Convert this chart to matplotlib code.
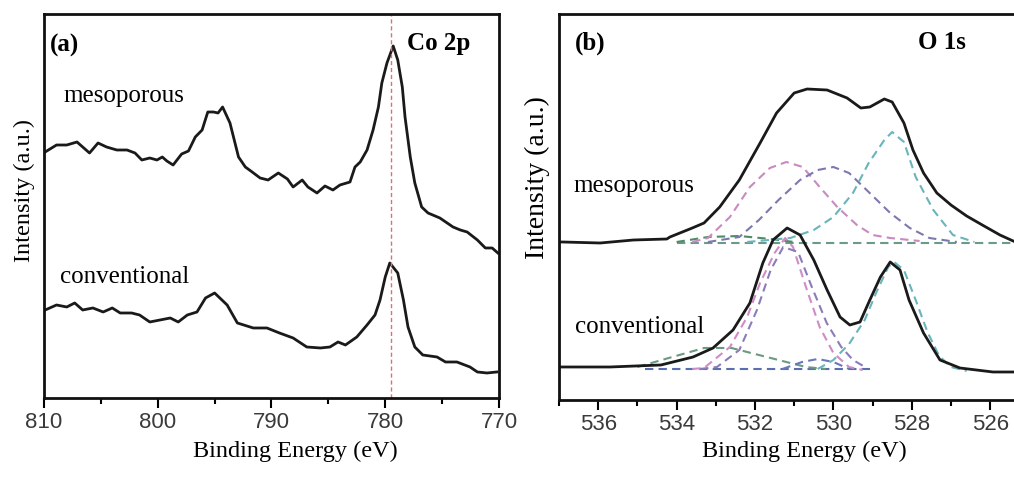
import numpy as np
import matplotlib.pyplot as plt

# Co 2p espectro (energía de enlace en eV, intensidad en u.a.)
co_e_meso = [809.9, 808.9, 808.0, 807.1, 806.6, 806.0, 805.25, 804.5, 803.6, 802.7, 802.0, 801.4,
             800.7, 800.07, 799.6, 799.2, 798.65, 797.9, 797.3, 796.7, 796.1, 795.6, 795.1, 794.7,
             794.3, 793.65, 792.9, 792.3, 791.7, 791.0, 790.3, 789.4, 788.6, 788.1, 787.3, 786.8,
             786.0, 785.3, 784.6, 783.98, 783.1, 782.66, 782.2, 781.6, 781.07, 780.6, 780.3, 779.85,
             779.3, 778.9, 778.5, 778.26, 777.8, 777.4, 776.8, 776.24, 775.2, 774.04, 773.4, 772.8,
             771.9, 771.2, 770.6, 770.1]
co_i_meso = [248, 255, 255, 258, 253, 247, 257, 253, 250, 250, 247, 240,
             242, 240, 243, 239, 235, 246, 249, 263, 270, 288, 288, 287,
             293, 277, 243, 233, 228, 222, 220, 227, 221, 213, 220, 213,
             207, 214, 210, 215, 218, 233, 238, 250, 270, 293, 317, 337,
             354, 340, 313, 283, 243, 217, 193, 187, 182, 173, 170, 168,
             160, 152, 152, 147]

co_e_conv = [809.9, 808.9, 808.0, 807.3, 806.6, 805.7, 804.8, 804.0, 803.3, 802.3, 801.6, 800.7,
             799.8, 798.9, 798.2, 797.4, 796.55, 795.8, 795.0, 793.9, 793.0, 791.6, 790.4, 789.3,
             788.1, 786.9, 785.7, 784.86, 784.15, 783.5, 782.5, 781.6, 780.9, 780.46, 780.0, 779.6,
             778.9, 778.4, 778.0, 777.4, 776.7, 775.45, 774.7, 773.7, 772.55, 771.9, 771.05, 770.2]
co_i_conv = [90, 95, 93, 97, 90, 92, 88, 92, 87, 87, 85, 78,
             80, 82, 78, 85, 88, 102, 107, 95, 77, 72, 72, 67,
             62, 53, 52, 53, 58, 55, 63, 75, 85, 100, 123, 137,
             127, 100, 73, 53, 45, 43, 38, 38, 33, 28, 27, 28]

co_peak = 779.5

# O 1s espectro
o_e_meso = [537.0, 536.9, 535.95, 535.1, 534.25, 534.17, 533.6, 533.3, 532.9, 532.4, 531.87, 531.45,
            531.0, 530.67, 530.16, 529.65, 529.3, 529.07, 528.7, 528.5, 528.2, 527.97, 527.7, 527.36,
            527.0, 526.6, 526.2, 525.75, 525.3]
o_i_meso = [158, 158, 157, 160, 161, 163, 172, 177, 193, 220, 257, 287,
            307, 311, 310, 302, 292, 293, 301, 298, 277, 250, 227, 207,
            195, 184, 175, 165, 157]

o_e_conv = [537.0, 535.7, 534.4, 533.58, 533.07, 532.56, 532.13, 531.8, 531.54, 531.18, 530.85, 530.5,
            530.16, 529.83, 529.58, 529.32, 529.07, 528.8, 528.55, 528.3, 528.07, 527.7, 527.28, 526.77,
            525.93, 525.3]
o_i_conv = [33, 33, 35, 43, 52, 70, 97, 137, 160, 172, 165, 140,
            110, 83, 75, 78, 100, 123, 138, 130, 100, 67, 40, 32,
            28, 28]

# componentes del ajuste (mesoporoso)
m_pink_e = [533.6, 533.2, 532.64, 532.13, 531.62, 531.2, 530.78, 530.35, 529.9, 529.4, 529.0, 528.55, 527.8]
m_pink_i = [158, 162, 183, 213, 232, 238, 233, 213, 193, 175, 165, 162, 159]
m_purp_e = [533.2, 532.4, 531.9, 531.4, 530.85, 530.4, 530.0, 529.6, 529.1, 528.55, 528.05, 527.55, 526.85]
m_purp_i = [158, 163, 180, 200, 220, 230, 233, 227, 208, 187, 172, 162, 158]
m_cyan_e = [532.2, 531.1, 530.5, 530.0, 529.5, 529.1, 528.7, 528.5, 528.2, 527.9, 527.45, 526.95, 526.4]
m_cyan_i = [158, 162, 170, 183, 207, 237, 260, 268, 258, 223, 190, 165, 158]
m_green_e = [534.0, 533.2, 532.4, 531.6, 531.0]
m_green_i = [158, 163, 164, 161, 158]
m_base_e = [534.0, 525.3]
m_base_i = [157, 157]

# componentes del ajuste (convencional)
c_pink_e = [533.6, 533.3, 532.64, 532.2, 531.87, 531.5, 531.23, 531.03, 530.7, 530.35, 530.0, 529.6, 529.25]
c_pink_i = [31, 32, 53, 83, 117, 147, 162, 153, 113, 73, 47, 33, 30]
c_purp_e = [533.4, 532.97, 532.4, 531.95, 531.6, 531.28, 530.9, 530.55, 530.17, 529.8, 529.5, 529.15]
c_purp_i = [31, 33, 50, 90, 130, 153, 148, 113, 77, 53, 40, 32]
c_green_e = [535.0, 534.2, 533.3, 532.6, 532.0, 531.3, 530.7, 530.2]
c_green_i = [33, 42, 52, 52, 46, 39, 33, 31]
c_blue_e = [531.3, 530.8, 530.4, 530.0, 529.6]
c_blue_i = [31, 38, 41, 38, 31]
c_cyan_e = [530.4, 530.0, 529.6, 529.2, 528.9, 528.6, 528.45, 528.2, 527.9, 527.6, 527.3, 527.0, 526.6]
c_cyan_i = [31, 40, 56, 80, 108, 133, 138, 130, 100, 68, 44, 33, 29]
c_base_e = [534.8, 529.0]
c_base_i = [31, 31]

serif = 'Liberation Serif'
sans = 'Liberation Sans'
dash = (0, (4, 2.5))
black = '#1a1a1a'

fig = plt.figure(figsize=(10.14, 4.78), dpi=100)

# Panel (a)
ax1 = fig.add_axes([0.0434, 0.1674, 0.4487, 0.8033])
ax1.plot(co_e_meso, co_i_meso, color=black, lw=2)
ax1.plot(co_e_conv, co_i_conv, color=black, lw=2)
ax1.axvline(co_peak, color='#e07070', lw=1, linestyle=(0, (3, 2)))
ax1.set_xlim(810, 770)
ax1.set_ylim(2, 386)
ax1.set_xticks([810, 800, 790, 780, 770])
ax1.set_xticks([805, 795, 785, 775], minor=True)
ax1.text(0.013, 0.919, '(a)', transform=ax1.transAxes, fontsize=18, fontweight='bold',
         family=serif, va='center')
ax1.text(0.798, 0.924, 'Co 2p', transform=ax1.transAxes, fontsize=18, fontweight='bold',
         family=serif, va='center')
ax1.text(0.042, 0.771, 'mesoporous', transform=ax1.transAxes, fontsize=18, family=serif)
ax1.text(0.035, 0.299, 'conventional', transform=ax1.transAxes, fontsize=18, family=serif)

# Panel (b)
ax2 = fig.add_axes([0.5513, 0.1632, 0.4507, 0.8075])
ax2.plot(m_base_e, m_base_i, color='#6a9a88', lw=1.5, linestyle=dash)
ax2.plot(m_green_e, m_green_i, color='#4f8a6a', lw=1.5, linestyle=dash)
ax2.plot(m_pink_e, m_pink_i, color='#c98ac0', lw=1.5, linestyle=dash)
ax2.plot(m_purp_e, m_purp_i, color='#7c78b0', lw=1.5, linestyle=dash)
ax2.plot(m_cyan_e, m_cyan_i, color='#6ab4bc', lw=1.5, linestyle=dash)
ax2.plot(c_base_e, c_base_i, color='#5a6fb0', lw=1.5, linestyle=dash)
ax2.plot(c_green_e, c_green_i, color='#6a9a80', lw=1.5, linestyle=dash)
ax2.plot(c_blue_e, c_blue_i, color='#6a78b8', lw=1.5, linestyle=dash)
ax2.plot(c_pink_e, c_pink_i, color='#d08cc4', lw=1.5, linestyle=dash)
ax2.plot(c_purp_e, c_purp_i, color='#8a7cb8', lw=1.5, linestyle=dash)
ax2.plot(c_cyan_e, c_cyan_i, color='#6ab4bc', lw=1.5, linestyle=dash)
ax2.plot(o_e_meso, o_i_meso, color=black, lw=2)
ax2.plot(o_e_conv, o_i_conv, color=black, lw=2)
ax2.set_xlim(537, 525.34)
ax2.set_ylim(0, 386)
ax2.set_xticks([536, 534, 532, 530, 528, 526])
ax2.set_xticks([537, 535, 533, 531, 529, 527], minor=True)
ax2.text(0.035, 0.925, '(b)', transform=ax2.transAxes, fontsize=18, fontweight='bold',
         family=serif, va='center')
ax2.text(0.786, 0.925, 'O 1s', transform=ax2.transAxes, fontsize=18, fontweight='bold',
         family=serif, va='center')
ax2.text(0.031, 0.539, 'mesoporous', transform=ax2.transAxes, fontsize=18, family=serif)
ax2.text(0.035, 0.174, 'conventional', transform=ax2.transAxes, fontsize=18, family=serif)

for ax in (ax1, ax2):
    ax.set_yticks([])
    for s in ax.spines.values():
        s.set_linewidth(2)
        s.set_color('#111111')
    ax.tick_params(axis='x', which='major', direction='out', length=7, width=1.5,
                   labelsize=16, pad=3, labelcolor='#3a3a3a')
    ax.tick_params(axis='x', which='minor', direction='out', length=4, width=1.5)
    for lab in ax.get_xticklabels():
        lab.set_family(sans)

# etiquetas de los ejes
fig.text(295 / 1014, 1 - 451 / 478, 'Binding Energy (eV)', family=serif, fontsize=17.5,
         ha='center', va='center')
fig.text(804 / 1014, 1 - 451 / 478, 'Binding Energy (eV)', family=serif, fontsize=17.5,
         ha='center', va='center')
fig.text(24 / 1014, 1 - 190 / 478, 'Intensity (a.u.)', family=serif, fontsize=17.5,
         rotation=90, ha='center', va='center')
fig.text(537 / 1014, 1 - 178 / 478, 'Intensity (a.u.)', family=serif, fontsize=20,
         rotation=90, ha='center', va='center')

plt.savefig('out.png', dpi=100)
